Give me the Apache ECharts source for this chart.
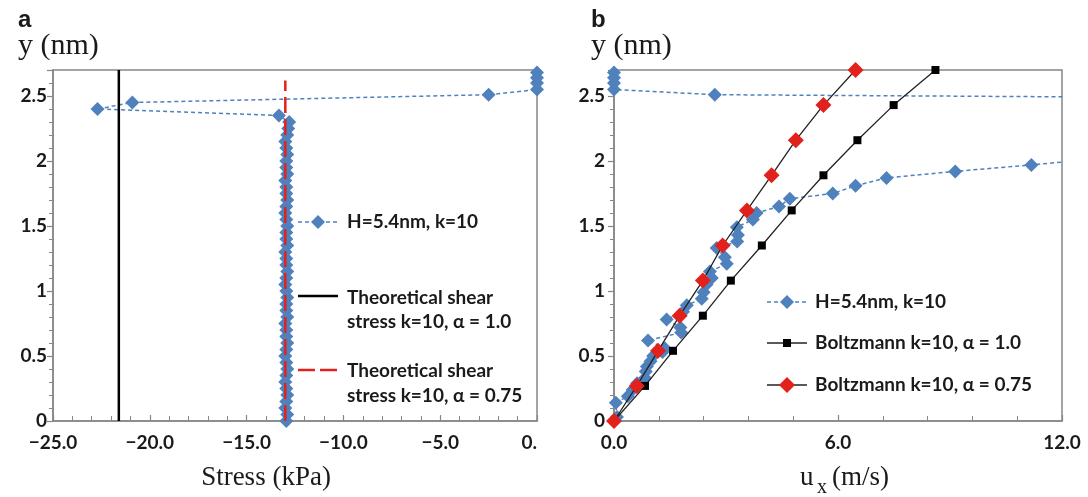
<!DOCTYPE html>
<html>
<head>
<meta charset="utf-8">
<script src="https://cdn.jsdelivr.net/npm/echarts@6/dist/echarts.min.js"></script>
<style>
html,body{margin:0;padding:0;background:#fff;}
#chart{width:1088px;height:497px;}
</style>
</head>
<body>
<div id="chart"></div>
<script>
// ---------- Panel a: stress profile ----------
const stressY = [0.00,0.05,0.10,0.15,0.20,0.25,0.30,0.35,0.40,0.45,0.50,0.55,0.60,0.65,0.70,0.75,0.80,0.85,0.90,0.95,
  1.00,1.05,1.10,1.15,1.20,1.25,1.30,1.35,1.40,1.45,1.50,1.55,1.60,1.65,1.70,1.75,1.80,1.85,1.90,1.95,
  2.00,2.05,2.10,2.15,2.20,2.25,2.30,2.35,2.40,2.45,2.51,2.55,2.60,2.64,2.68];
const stressX = [-12.95,-12.9,-13.0,-12.95,-12.9,-12.95,-13.0,-12.95,-12.9,-12.95,-13.0,-12.95,-12.9,-12.95,-12.95,-13.0,-12.9,-12.95,-12.95,-12.9,
  -12.95,-13.0,-12.95,-12.9,-12.95,-12.95,-13.0,-12.9,-12.95,-12.95,-12.9,-12.95,-13.0,-12.95,-12.9,-12.95,-12.95,-13.0,-12.9,-12.95,
  -12.95,-12.9,-12.95,-13.0,-12.9,-12.85,-12.8,-13.33,-22.7,-20.9,-2.5,0,0,0,0];
const theoryA10X = [-21.6,-21.6];
const theoryA10Y = [0,2.7];
const theoryA075X = [-13.0,-13.0];
const theoryA075Y = [0,2.62];
const stressTicks = [-25,-20,-15,-10,-5,0];

// ---------- Panel b: velocity profile ----------
const velY = [0.03,0.14,0.19,0.24,0.29,0.33,0.38,0.42,0.46,0.50,0.53,0.56,0.62,0.68,0.72,0.78,0.84,0.89,0.94,0.99,
  1.05,1.10,1.15,1.21,1.26,1.33,1.38,1.43,1.49,1.55,1.60,1.65,1.71,1.75,1.81,1.87,1.92,1.97,2.03,2.48,2.51,2.55,2.60,2.64,2.68];
const velX = [0.08,0.05,0.37,0.50,0.62,0.83,0.85,0.88,0.98,1.05,1.30,1.36,0.91,1.80,1.78,1.41,1.85,1.95,2.35,2.40,
  2.48,2.62,2.57,3.02,2.97,2.75,3.30,3.32,3.29,3.72,3.82,4.42,4.71,5.86,6.47,7.30,9.14,11.18,13.5,20.0,2.70,0,0,0,0];
const boltzY = [0,0.27,0.54,0.81,1.08,1.35,1.62,1.89,2.16,2.43,2.70];
const boltzA10X = [0,0.83,1.58,2.38,3.13,3.96,4.76,5.61,6.52,7.49,8.61];
const boltzA075X = [0,0.61,1.18,1.76,2.38,2.91,3.56,4.22,4.87,5.61,6.47];

const seriesNames = ['H=5.4nm, k=10','Theoretical shear\nstress k=10, α = 1.0','Theoretical shear\nstress k=10, α = 0.75',
  'Boltzmann k=10, α = 1.0','Boltzmann k=10, α = 0.75'];

const zip = (xs, ys) => xs.map((x, i) => [x, ys[i]]);

const BLUE = '#4F81BD', RED = '#E3211C', AX = '#868686', TXT = '#1a1a1a';
const tickFont = {fontFamily: 'Lato', fontWeight: 'bold', fontSize: 19, color: TXT};
const legFont = 'bold 19px Lato';
const serifFont = '27px "Liberation Serif"';
const yTitleFont = '30px "Liberation Serif"';

function xAxisCfg(grid, min, max, interval, fmt) {
  return {
    type: 'value', gridIndex: grid, min: min, max: max, interval: interval,
    axisLine: {show: true, onZero: false, lineStyle: {color: AX, width: 1.5}},
    axisTick: {show: true, inside: true, length: 6, lineStyle: {color: AX, width: 1.2}},
    minorTick: {show: true, splitNumber: 5, length: 5, lineStyle: {color: AX, width: 1}},
    splitLine: {show: false},
    axisLabel: Object.assign({margin: 12, formatter: fmt, alignMaxLabel: grid === 0 ? 'right' : 'center'}, tickFont)
  };
}
function yAxisCfg(grid) {
  return {
    type: 'value', gridIndex: grid, min: 0, max: 2.7, interval: 0.5,
    axisLine: {show: true, onZero: false, lineStyle: {color: AX, width: 1.5}},
    axisTick: {show: true, inside: false, length: 6, lineStyle: {color: AX, width: 1.2}},
    minorTick: {show: true, splitNumber: 5, length: 4, lineStyle: {color: AX, width: 1}},
    splitLine: {show: false},
    axisLabel: Object.assign({margin: grid === 0 ? 6 : 9, showMaxLabel: false, formatter: v => String(v)}, tickFont)
  };
}

const stressFmt = v => v === 0 ? '0.' : '\u2212' + Math.abs(v).toFixed(1);
const velFmt = v => v.toFixed(1);

function diamond(cx, cy, r, color) {
  return {type: 'polygon', shape: {points: [[cx, cy - r], [cx + r, cy], [cx, cy + r], [cx - r, cy]]}, style: {fill: color}, z: 100};
}
function hline(x1, x2, y, color, width, dash) {
  return {type: 'line', shape: {x1: x1, y1: y, x2: x2, y2: y}, style: {stroke: color, lineWidth: width, lineDash: dash || null}, z: 100};
}
function txt(x, y, s, font, align) {
  return {type: 'text', x: x, y: y, style: {text: s, font: font, fill: TXT, textAlign: align || 'left', textVerticalAlign: 'middle'}, z: 100};
}

const option = {
  animation: false,
  backgroundColor: '#fff',
  grid: [
    {left: 53, right: 551, top: 70, bottom: 76, show: true, borderColor: AX, borderWidth: 1.5, backgroundColor: 'transparent'},
    {left: 614, right: 26, top: 70, bottom: 76, show: true, borderColor: AX, borderWidth: 1.5, backgroundColor: 'transparent'}
  ],
  xAxis: [xAxisCfg(0, stressTicks[0], stressTicks[stressTicks.length - 1], 5, stressFmt), xAxisCfg(1, 0, 12, 6, velFmt)],
  yAxis: [yAxisCfg(0), yAxisCfg(1)],
  series: [
    {name: seriesNames[0], type: 'line', xAxisIndex: 0, yAxisIndex: 0, data: zip(stressX, stressY),
     symbol: 'diamond', symbolSize: 14, itemStyle: {color: BLUE},
     lineStyle: {color: BLUE, width: 1.5, type: [4, 3]}, z: 2},
    {name: seriesNames[1], type: 'line', xAxisIndex: 0, yAxisIndex: 0, data: zip(theoryA10X, theoryA10Y),
     showSymbol: false, symbol: 'none', lineStyle: {color: '#000', width: 2.5}, z: 3},
    {name: seriesNames[2], type: 'line', xAxisIndex: 0, yAxisIndex: 0, data: zip(theoryA075X, theoryA075Y),
     showSymbol: false, symbol: 'none', lineStyle: {color: RED, width: 2.5, type: [16, 6]}, z: 4},
    {name: seriesNames[0], type: 'line', xAxisIndex: 1, yAxisIndex: 1, data: zip(velX, velY),
     symbol: 'diamond', symbolSize: 14, itemStyle: {color: BLUE},
     lineStyle: {color: BLUE, width: 1.5, type: [4, 3]}, z: 2},
    {name: seriesNames[3], type: 'line', xAxisIndex: 1, yAxisIndex: 1, data: zip(boltzA10X, boltzY),
     symbol: 'rect', symbolSize: 8, itemStyle: {color: '#000'},
     lineStyle: {color: '#222', width: 1.3}, z: 3},
    {name: seriesNames[4], type: 'line', xAxisIndex: 1, yAxisIndex: 1, data: zip(boltzA075X, boltzY),
     symbol: 'diamond', symbolSize: 16, itemStyle: {color: RED},
     lineStyle: {color: '#222', width: 1.3}, z: 4}
  ],
  graphic: [
    txt(18, 20, 'a', 'bold 24px "Liberation Sans"'),
    txt(18, 46, 'y (nm)', yTitleFont),
    txt(591, 20, 'b', 'bold 24px "Liberation Sans"'),
    txt(591, 46, 'y (nm)', yTitleFont),
    txt(266, 478, 'Stress (kPa)', serifFont, 'center'),
    txt(800, 478, 'u', serifFont),
    txt(817, 488, 'x', '20px "Liberation Serif"'),
    txt(832, 478, '(m/s)', serifFont),
    // legend a
    hline(298, 338, 222, BLUE, 1.5, [4, 3]), diamond(318, 222, 7, BLUE),
    txt(347, 222, seriesNames[0], legFont),
    hline(298, 338, 296, '#000', 2.5),
    txt(347, 298, 'Theoretical shear', legFont), txt(347, 322, 'stress k=10, α = 1.0', legFont),
    hline(298, 338, 370, RED, 2.5, [17, 5]),
    txt(347, 371, 'Theoretical shear', legFont), txt(347, 396, 'stress k=10, α = 0.75', legFont),
    // legend b
    hline(767, 807, 302, BLUE, 1.5, [4, 3]), diamond(787, 302, 7, BLUE),
    txt(815, 302, seriesNames[0], legFont),
    hline(767, 807, 343, '#222', 1.3),
    {type: 'rect', shape: {x: 783, y: 339, width: 8, height: 8}, style: {fill: '#000'}, z: 100},
    txt(815, 343, seriesNames[3], legFont),
    hline(767, 807, 385, '#222', 1.3), diamond(787, 385, 8, RED),
    txt(815, 385, seriesNames[4], legFont)
  ]
};

const chart = echarts.init(document.getElementById('chart'), null, {renderer: 'canvas'});
chart.setOption(option);
</script>
</body>
</html>
